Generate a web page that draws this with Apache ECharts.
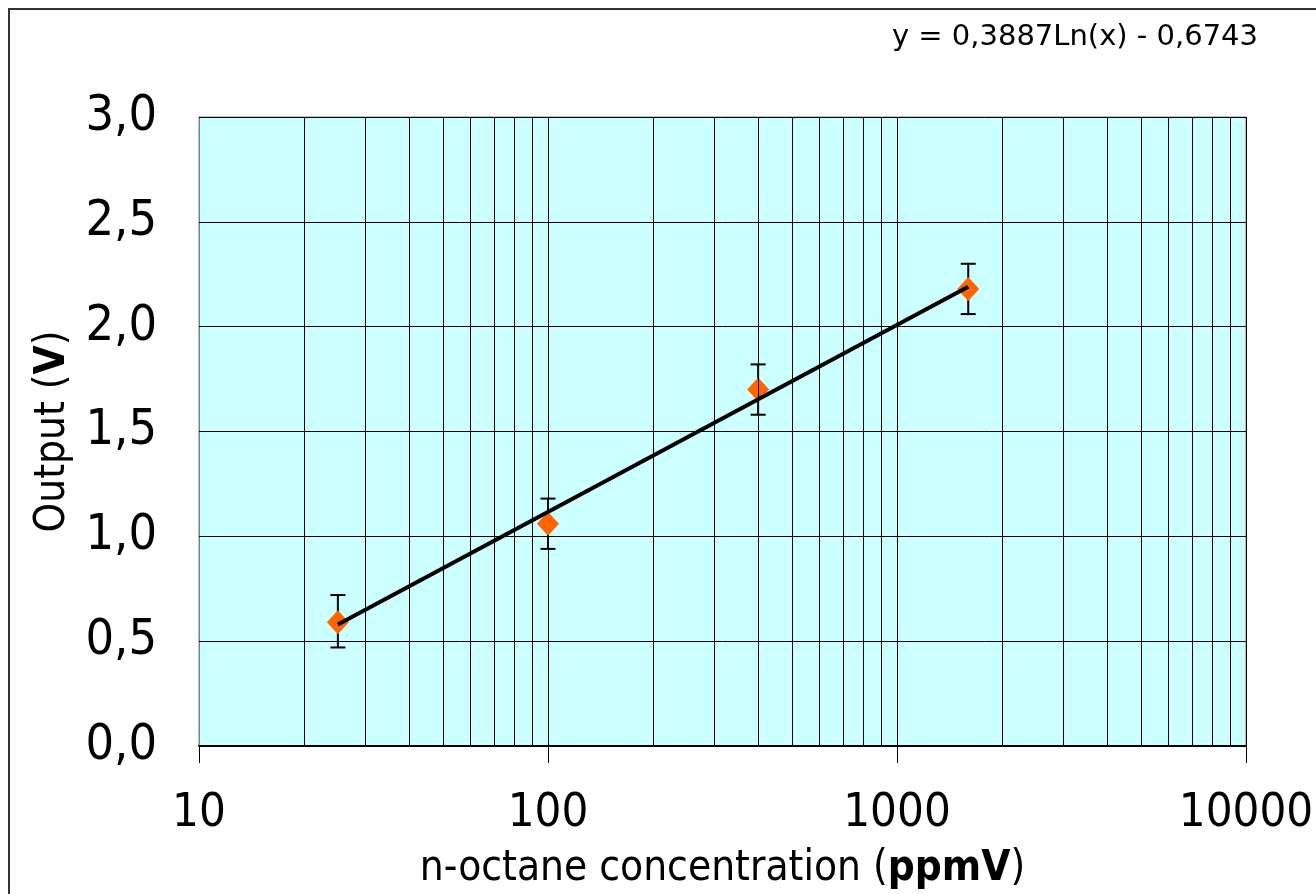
<!DOCTYPE html>
<html>
<head>
<meta charset="utf-8">
<script src="https://cdn.jsdelivr.net/npm/echarts@6/dist/echarts.min.js"></script>
<style>
  html, body { margin: 0; padding: 0; background: #fff; }
  #chart { width: 1316px; height: 894px; }
</style>
</head>
<body>
<div id="chart"></div>
<script>
// measured points (ppmV -> V)
const conc = [25, 100, 400, 1600]
const output = [0.59, 1.06, 1.70, 2.18]
const errLow = [0.47, 0.94, 1.58, 2.06]
const errHigh = [0.72, 1.18, 1.82, 2.30]
// log trend line end points
const trendX = [25, 1600]
const trendY = [0.58, 2.19]
// minor vertical grid lines of the log axis
const minorTicks = [20, 30, 40, 50, 60, 70, 80, 90, 200, 300, 400, 500, 600, 700, 800, 900,
  2000, 3000, 4000, 5000, 6000, 7000, 8000, 9000]
const yTicks = [0, 0.5, 1, 1.5, 2, 2.5, 3]
const equation = 'y = 0,3887Ln(x) - 0,6743'

const narrow = "'Liberation Sans Narrow', 'DejaVu Sans Condensed', 'DejaVu Sans', sans-serif"

const chart = echarts.init(document.getElementById('chart'))

chart.setOption({
  backgroundColor: '#fff',
  animation: false,
  graphic: [{
    type: 'rect',
    shape: { x: 9, y: 9, width: 1400, height: 1000 },
    style: { fill: 'none', stroke: '#333', lineWidth: 2 },
    silent: true
  }, {
    type: 'text',
    right: 58,
    top: 23,
    style: {
      text: equation,
      fontSize: 29,
      fontFamily: "'DejaVu Sans', sans-serif",
      fill: '#000'
    }
  }],
  grid: {
    left: 199,
    top: 117,
    right: 70,
    bottom: 148,
    outerBoundsMode: 'none',
    show: true,
    backgroundColor: '#ccffff',
    borderColor: '#808080',
    borderWidth: 1
  },
  xAxis: {
    type: 'log',
    logBase: 10,
    min: 10,
    max: 10000,
    name: 'n-octane concentration ({b|ppmV})',
    nameLocation: 'middle',
    nameGap: 102,
    nameTextStyle: {
      fontSize: 42,
      fontFamily: narrow,
      color: '#000',
      rich: {
        b: { fontSize: 42, fontFamily: narrow, fontWeight: 'bold', color: '#000' }
      }
    },
    axisLine: { lineStyle: { color: '#000', width: 2 } },
    axisTick: { show: true, inside: false, length: 17, lineStyle: { color: '#000' } },
    axisLabel: {
      fontSize: 47,
      fontFamily: narrow,
      color: '#000',
      margin: 44,
      formatter: v => String(Math.round(v))
    },
    splitLine: { show: true, lineStyle: { color: '#000', width: 1 } }
  },
  yAxis: {
    type: 'value',
    min: 0,
    max: 3,
    interval: 0.5,
    name: 'Output ({b|V})',
    nameLocation: 'middle',
    nameRotate: 90,
    nameGap: 117,
    nameTextStyle: {
      fontSize: 42,
      fontFamily: narrow,
      color: '#000',
      rich: {
        b: { fontSize: 42, fontFamily: narrow, fontWeight: 'bold', color: '#000' }
      }
    },
    axisLine: { show: true, lineStyle: { color: '#808080' } },
    axisTick: { show: true, inside: true, length: 6, lineStyle: { color: '#000' } },
    axisLabel: {
      fontSize: 50,
      fontFamily: narrow,
      color: '#000',
      margin: 42,
      formatter: v => v.toFixed(1).replace('.', ',')
    },
    splitLine: { show: true, lineStyle: { color: '#000', width: 1 } }
  },
  series: [{
    // minor grid lines through the axis scale
    type: 'line',
    data: [],
    silent: true,
    markLine: {
      symbol: 'none',
      silent: true,
      label: { show: false },
      lineStyle: { color: '#000', width: 1, type: 'solid' },
      data: minorTicks.map(v => ({ xAxis: v }))
    },
    z: 1
  }, {
    type: 'custom',
    name: 'error',
    data: conc.map((c, i) => [c, errLow[i], errHigh[i]]),
    renderItem (params, api) {
      const lo = api.coord([api.value(0), api.value(1)])
      const hi = api.coord([api.value(0), api.value(2)])
      const w = 7.5
      const style = { stroke: '#000', lineWidth: 2 }
      return {
        type: 'group',
        children: [
          { type: 'line', shape: { x1: lo[0], y1: lo[1], x2: hi[0], y2: hi[1] }, style },
          { type: 'line', shape: { x1: lo[0] - w, y1: lo[1], x2: lo[0] + w, y2: lo[1] }, style },
          { type: 'line', shape: { x1: hi[0] - w, y1: hi[1], x2: hi[0] + w, y2: hi[1] }, style }
        ]
      }
    },
    z: 3
  }, {
    type: 'scatter',
    name: 'Output',
    data: conc.map((c, i) => [c, output[i]]),
    symbol: 'diamond',
    symbolSize: [22, 24],
    itemStyle: { color: '#ff6600', opacity: 1 },
    z: 4
  }, {
    type: 'line',
    name: 'trend',
    data: trendX.map((x, i) => [x, trendY[i]]),
    showSymbol: false,
    symbol: 'none',
    lineStyle: { color: '#000', width: 4 },
    z: 5
  }]
})
</script>
</body>
</html>
